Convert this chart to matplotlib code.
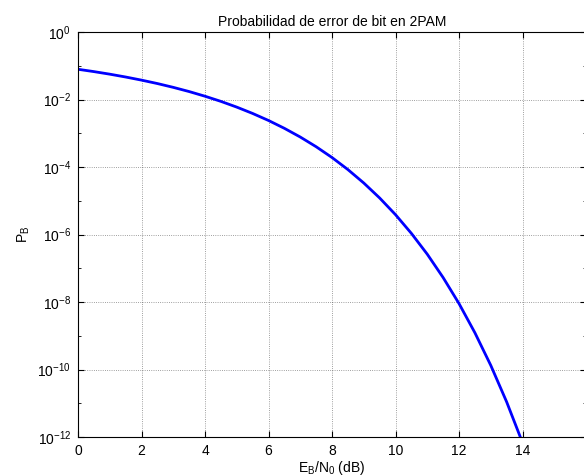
import numpy as np
import matplotlib
matplotlib.use("Agg")
import matplotlib.pyplot as plt
from matplotlib.ticker import FixedLocator

plt.rcParams['font.family'] = ['Liberation Sans', 'DejaVu Sans']

# Eb/N0 in dB and bit error probability
ebn0_db = [0, 0.5, 1, 1.5, 2, 2.5, 3, 3.5, 4, 4.5, 5, 5.5, 6, 6.5, 7,
           7.5, 8, 8.5, 9, 9.5, 10, 10.5, 11, 11.5, 12, 12.5, 13, 13.5, 14]
pb = [7.86e-2, 6.71e-2, 5.63e-2, 4.64e-2, 3.75e-2, 2.97e-2, 2.29e-2, 1.72e-2,
      1.25e-2, 8.8e-3, 5.95e-3, 3.86e-3, 2.39e-3, 1.40e-3, 7.73e-4,
      3.99e-4, 1.91e-4, 8.4e-5, 3.36e-5, 1.21e-5, 3.87e-6, 1.08e-6, 2.61e-7,
      5.3e-8, 9.0e-9, 1.23e-9, 1.33e-10, 1.1e-11, 6.8e-13]

xticks = list(range(0, 17, 2))
xticklabels = [str(v) for v in range(0, 15, 2)] + [""]  # 16 falls off the crop
yticks = [10.0**k for k in range(-12, 1, 2)]

fig = plt.figure(figsize=(5.84, 4.76), dpi=100)
ax = fig.add_axes([78/584, 39/476, 508/584, 405/476])

ax.semilogy(ebn0_db, pb, color='b', lw=2)
ax.set_xlim(0, 16)
ax.set_ylim(1e-12, 1)
ax.set_xticks(xticks)
ax.set_xticklabels(xticklabels)
ax.set_yticks(yticks)
ax.yaxis.set_minor_locator(FixedLocator([10.0**k for k in range(-12, 1)]))
ax.yaxis.set_minor_formatter(plt.NullFormatter())
ax.grid(True, which='major', ls=':', color='k', lw=0.6, alpha=0.5)
ax.tick_params(which='both', direction='in', top=True, right=True, labelsize=10)
ax.tick_params(which='major', length=4, pad=5)
ax.tick_params(which='minor', length=2)
for s in ax.spines.values():
    s.set_linewidth(0.8)

ax.set_title("Probabilidad de error de bit en 2PAM", fontsize=10, pad=4)
ax.set_xlabel(r"E$_\mathregular{B}$/N$_\mathregular{0}$ (dB)", fontsize=10, labelpad=1)
ax.set_ylabel(r"P$_\mathregular{B}$", fontsize=10, labelpad=4)

fig.savefig("out.png", dpi=100)
